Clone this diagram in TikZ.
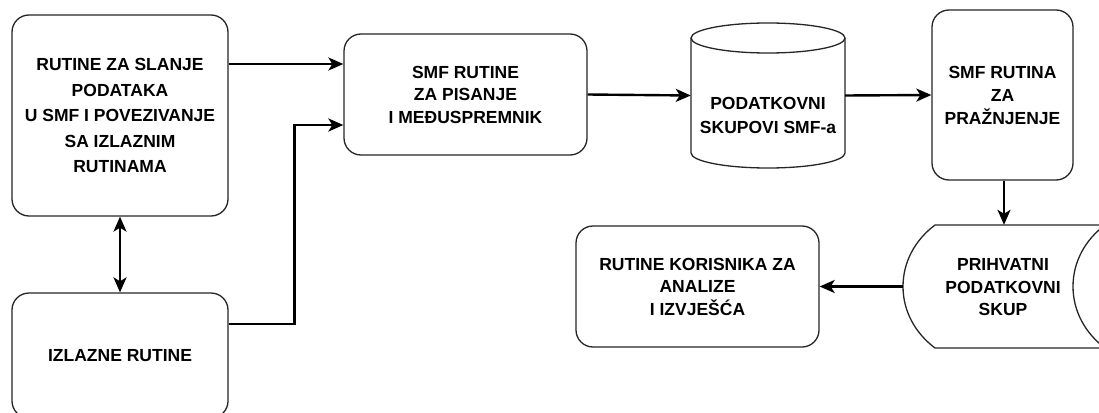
\documentclass[tikz,border=0pt]{standalone}
\usepackage{fontspec}
\setmainfont{Liberation Sans}
\usetikzlibrary{arrows.meta}
\begin{document}
\begin{tikzpicture}[x=1pt,y=-1pt,
  shapeline/.style={draw=black!85, line width=1.3pt},
  box/.style={shapeline, fill=white, rounded corners=17pt, align=center,
    font=\fontsize{17.5}{22.5}\selectfont\bfseries, inner sep=0pt},
  lbl/.style={align=center, font=\fontsize{17.5}{22.5}\selectfont\bfseries, inner sep=0pt},
  tip/.style={},
  conn/.style={line width=2.4pt, -{Stealth[length=15pt,width=13pt,inset=4pt]}},
  dconn/.style={line width=2.4pt, {Stealth[length=15pt,width=13pt,inset=4pt]}-{Stealth[length=15pt,width=13pt,inset=4pt]}},
]
\fill[white] (0,0) rectangle (1099,412);
\useasboundingbox (0,0) rectangle (1099,412);

% left column
\node[box, minimum width=216pt, minimum height=201pt,
  font=\fontsize{17.5}{25.5}\selectfont\bfseries] (b1) at (120,115.5)
  {RUTINE ZA SLANJE\\PODATAKA\\U SMF I POVEZIVANJE\\SA IZLAZNIM\\RUTINAMA};
\node[box, minimum width=216pt, minimum height=125pt] (b2) at (120,355.5)
  {IZLAZNE RUTINE};

% SMF write routines
\node[box, minimum width=243pt, minimum height=121pt] (b3) at (465.5,94.5)
  {SMF RUTINE\\ZA PISANJE\\I MEĐUSPREMNIK};

% cylinder
\node[minimum width=154pt, minimum height=145pt, inner sep=0pt] (cyl) at (768,95.5) {};
\draw[shapeline, fill=white] (691,38) -- (691,153)
  .. controls (691,161.3) and (725.5,168) .. (768,168)
  .. controls (810.5,168) and (845,161.3) .. (845,153) -- (845,38);
\draw[shapeline] (768,38) ellipse [x radius=77pt, y radius=15pt];
\node[lbl, font=\fontsize{17.5}{24}\selectfont\bfseries] (cyltext) at (768,115)
  {PODATKOVNI\\SKUPOVI SMF-a};

% SMF dump routine
\node[box, minimum width=141pt, minimum height=170pt,
  font=\fontsize{17.5}{23}\selectfont\bfseries] (b5) at (1002.5,95)
  {SMF RUTINA\\ZA\\PRAŽNJENJE};

% stored data shape
\node[minimum width=202pt, minimum height=123pt, inner sep=0pt] (store) at (1004,286.5) {};
\draw[shapeline, fill=white] (935,225) -- (1105,225)
  .. controls (1085,240) and (1073,262) .. (1073,286.5)
  .. controls (1073,311) and (1085,333) .. (1105,348)
  -- (935,348)
  .. controls (915,333) and (903,311) .. (903,286.5)
  .. controls (903,262) and (915,240) .. (935,225) -- cycle;
\node[lbl] (storetext) at (1003,287.5) {PRIHVATNI\\PODATKOVNI\\SKUP};

% user routines
\node[box, minimum width=243pt, minimum height=121pt] (b4) at (697.5,286.5)
  {RUTINE KORISNIKA ZA\\ANALIZE\\I IZVJEŠĆA};

% connectors
\draw[conn] ([yshift=51.5pt]b1.east) -- ([yshift=30.5pt]b3.west);
\draw[conn] ([yshift=31.5pt]b2.east) -- ++(66,0) |- ([yshift=-30.5pt]b3.west);
\draw[dconn] (b1.south) -- (b2.north);
\draw[conn] (b3.east) -- (cyl.west);
\draw[conn] (cyl.east) -- (b5.west);
\draw[conn] ([xshift=1.5pt]b5.south) -- (store.north);
\draw[conn] (store.west) -- (b4.east);
\end{tikzpicture}
\end{document}
